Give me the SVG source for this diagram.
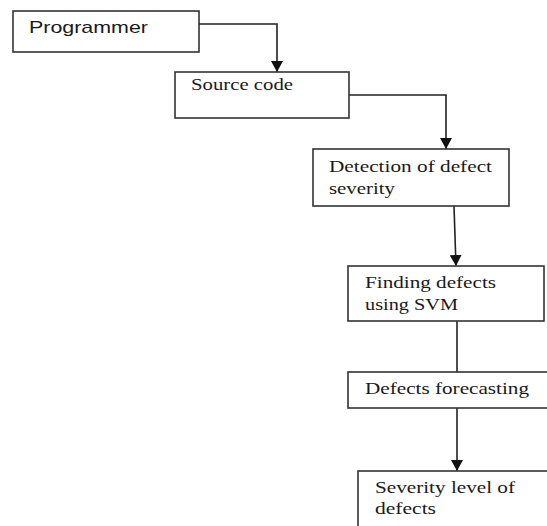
<svg xmlns="http://www.w3.org/2000/svg" width="547" height="526" viewBox="0 0 547 526">
<defs>
<marker id="arr" markerWidth="12" markerHeight="12" refX="11" refY="6" orient="auto" markerUnits="userSpaceOnUse">
<path d="M0,0 L11,6 L0,12 Z" fill="#111"/>
</marker>
<style>
.box{fill:#fff;stroke:#333;stroke-width:1.6}
.c{fill:none;stroke:#222;stroke-width:1.6}
.s{font-family:"Liberation Serif",serif;font-size:17px;fill:#1a1a1a}
.a{font-family:"Liberation Sans",sans-serif;font-size:17px;fill:#1a1a1a}
</style>
</defs>
<rect width="547" height="526" fill="#fff"/>
<g id="connectors">
<path class="c" d="M199,24 H277 V72" marker-end="url(#arr)"/>
<path class="c" d="M349,95 H446 V149" marker-end="url(#arr)"/>
<path class="c" d="M454,206 L456,266" marker-end="url(#arr)"/>
<path class="c" d="M457,321 V372"/>
<path class="c" d="M457,408 V471" marker-end="url(#arr)"/>
</g>
<g id="programmer">
<rect class="box" x="13" y="11" width="186" height="41"/>
<text class="a" x="29" y="33" textLength="119" lengthAdjust="spacingAndGlyphs">Programmer</text>
</g>
<g id="source">
<rect class="box" x="175" y="72" width="174" height="46"/>
<text class="s" x="191" y="90" textLength="102" lengthAdjust="spacingAndGlyphs">Source code</text>
</g>
<g id="detection">
<rect class="box" x="313" y="149" width="196" height="57"/>
<text class="s" x="329" y="172" textLength="163" lengthAdjust="spacingAndGlyphs">Detection of defect</text>
<text class="s" x="329" y="194" textLength="66" lengthAdjust="spacingAndGlyphs">severity</text>
</g>
<g id="finding">
<rect class="box" x="348" y="266" width="196" height="55"/>
<text class="s" x="365" y="288" textLength="131" lengthAdjust="spacingAndGlyphs">Finding defects</text>
<text class="s" x="365" y="310" textLength="93" lengthAdjust="spacingAndGlyphs">using SVM</text>
</g>
<g id="forecasting">
<rect class="box" x="348" y="372" width="210" height="36"/>
<text class="s" x="365" y="394" textLength="164" lengthAdjust="spacingAndGlyphs">Defects forecasting</text>
</g>
<g id="severity">
<rect class="box" x="358" y="471" width="200" height="70"/>
<text class="s" x="375" y="493" textLength="140" lengthAdjust="spacingAndGlyphs">Severity level of</text>
<text class="s" x="375" y="514" textLength="61" lengthAdjust="spacingAndGlyphs">defects</text>
</g>
</svg>
